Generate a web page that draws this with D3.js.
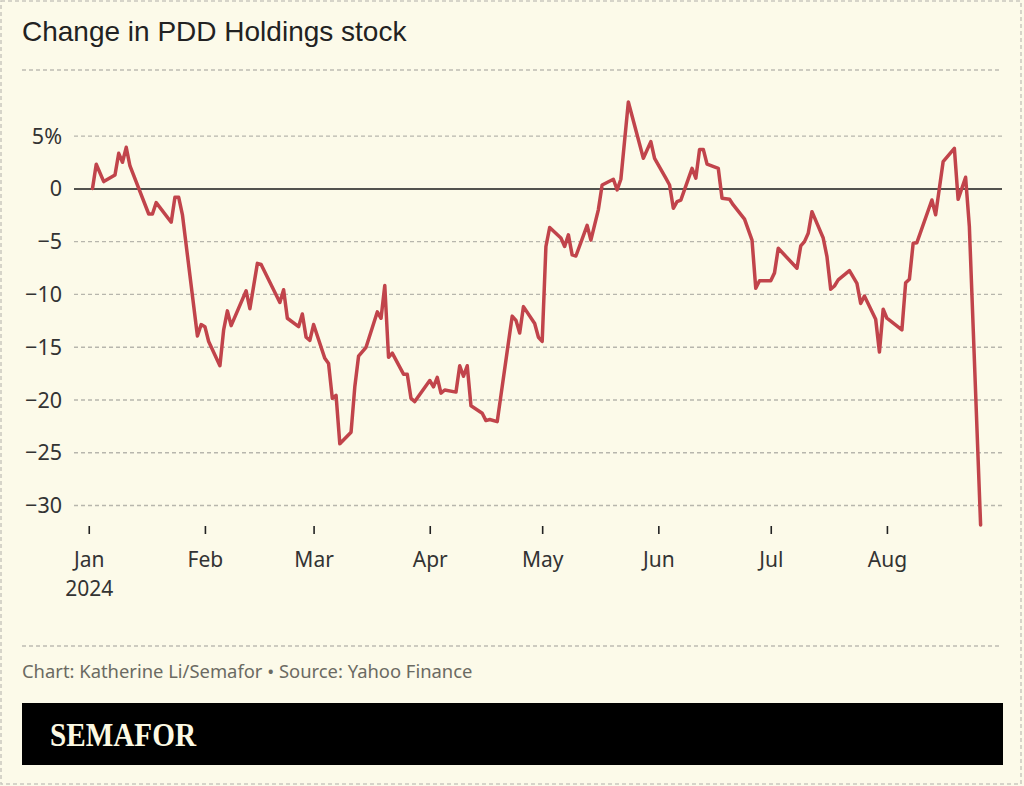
<!DOCTYPE html>
<html>
<head>
<meta charset="utf-8">
<script src="https://cdn.jsdelivr.net/npm/d3@7"></script>
<style>
  html, body { margin: 0; padding: 0; background: #fcfae9; }
  svg { display: block; }
</style>
</head>
<body>
<svg id="chart" width="1024" height="786"></svg>
<script>
// ---- data ----
const title = "Change in PDD Holdings stock";
const footer = "Chart: Katherine Li/Semafor \u2022 Source: Yahoo Finance";
const brand = "SEMAFOR";

const dates = [
  "2024-01-02","2024-01-03","2024-01-05","2024-01-08","2024-01-09","2024-01-10","2024-01-11","2024-01-12",
  "2024-01-17","2024-01-18","2024-01-19","2024-01-23","2024-01-24","2024-01-25","2024-01-26","2024-01-30",
  "2024-01-31","2024-02-01","2024-02-02","2024-02-05","2024-02-06","2024-02-07","2024-02-08","2024-02-12",
  "2024-02-13","2024-02-15","2024-02-16","2024-02-21","2024-02-22","2024-02-23","2024-02-26","2024-02-27",
  "2024-02-28","2024-02-29","2024-03-01","2024-03-04","2024-03-05","2024-03-06","2024-03-07","2024-03-08",
  "2024-03-11","2024-03-12","2024-03-13","2024-03-15","2024-03-18","2024-03-19","2024-03-20","2024-03-21",
  "2024-03-22","2024-03-25","2024-03-26","2024-03-27","2024-03-28","2024-04-01","2024-04-02","2024-04-03",
  "2024-04-04","2024-04-05","2024-04-08","2024-04-09","2024-04-10","2024-04-11","2024-04-12","2024-04-15",
  "2024-04-16","2024-04-17","2024-04-19","2024-04-23","2024-04-24","2024-04-25","2024-04-26","2024-04-29",
  "2024-04-30","2024-05-01","2024-05-02","2024-05-03","2024-05-06","2024-05-07","2024-05-08","2024-05-09",
  "2024-05-10","2024-05-13","2024-05-14","2024-05-16","2024-05-17","2024-05-20","2024-05-21","2024-05-22",
  "2024-05-24","2024-05-28","2024-05-30","2024-05-31","2024-06-03","2024-06-04","2024-06-05","2024-06-06",
  "2024-06-07","2024-06-10","2024-06-11","2024-06-12","2024-06-13","2024-06-14","2024-06-17","2024-06-18",
  "2024-06-20","2024-06-21","2024-06-24","2024-06-26","2024-06-27","2024-06-28","2024-07-01","2024-07-02",
  "2024-07-03","2024-07-08","2024-07-09","2024-07-10","2024-07-11","2024-07-12","2024-07-15","2024-07-16",
  "2024-07-17","2024-07-18","2024-07-19","2024-07-22","2024-07-24","2024-07-25","2024-07-26","2024-07-29",
  "2024-07-30","2024-07-31","2024-08-01","2024-08-05","2024-08-06","2024-08-07","2024-08-08","2024-08-09",
  "2024-08-13","2024-08-14","2024-08-16","2024-08-19","2024-08-20","2024-08-22","2024-08-23","2024-08-26"
];
const changes = [
  0, 2.3, 0.65, 1.28, 3.33, 2.48, 3.9, 2.13,
  -2.42, -2.42, -1.34, -3.2, -0.84, -0.84, -2.5, -13.98,
  -12.9, -13.1, -14.5, -16.8, -13.4, -11.6, -13.0, -9.7,
  -11.4, -7.1, -7.2, -10.8, -9.6, -12.3, -13.1, -11.9,
  -14.1, -14.4, -12.9, -16.1, -16.6, -19.9, -19.6, -24.2,
  -23.1, -18.8, -15.9, -15.05, -11.7, -12.3, -9.2, -16.0,
  -15.6, -17.6, -17.6, -19.9, -20.2, -18.2, -18.8, -17.9,
  -19.4, -19.1, -19.3, -16.8, -17.8, -16.8, -20.6, -21.3,
  -22.0, -21.9, -22.1, -12.1, -12.5, -13.7, -11.2, -12.8,
  -14.1, -14.5, -5.5, -3.7, -4.7, -5.5, -4.4, -6.3,
  -6.4, -3.5, -4.9, -2.0, 0.33, 0.87, -0.14, 0.87,
  8.2, 2.86, 4.44, 2.86, 0.97, 0.33, -1.88, -1.25,
  -1.1, 1.9, 0.97, 3.7, 3.7, 2.3, 1.9, -0.93,
  -1.03, -1.56, -2.9, -4.9, -9.46, -8.74, -8.74, -8.0,
  -5.67, -7.56, -5.45, -5.04, -4.25, -2.2, -4.7, -6.46,
  -9.55, -9.24, -8.67, -7.79, -8.99, -10.9, -10.2, -12.4,
  -15.5, -11.45, -12.3, -13.4, -8.93, -8.6, -5.2, -5.14,
  -1.09, -2.5, 2.54, 3.8, -1.03, 1.06, -3.6, -31.9
];
const yTicks = [5, 0, -5, -10, -15, -20, -25, -30];
const monthTicks = ["2024-01-01","2024-02-01","2024-03-01","2024-04-01","2024-05-01","2024-06-01","2024-07-01","2024-08-01"];

// ---- drawing ----
const W = 1024, H = 786;
const svg = d3.select("#chart");
const parse = d3.utcParse("%Y-%m-%d");
const data = dates.map((d, i) => ({ date: parse(d), value: changes[i] }));

const x = d3.scaleUtc()
  .domain([parse("2024-01-02"), parse("2024-08-26")])
  .range([92.5, 980.6]);
const y = d3.scaleLinear().domain([-30, 5]).range([505, 135.7]);

const gridLeft = 74, gridRight = 1002;

// background + outer dashed frame
svg.append("rect").attr("x", 0).attr("y", 0).attr("width", W).attr("height", H).attr("fill", "#fcfae9");
svg.append("rect").attr("x", 1).attr("y", 1).attr("width", 1020).attr("height", 783)
  .attr("fill", "none").attr("stroke", "#c9c8bf").attr("stroke-width", 1.5).attr("stroke-dasharray", "4,3");

// title
svg.append("text").attr("x", 22).attr("y", 41)
  .attr("font-family", "'Liberation Sans', Arial, sans-serif").attr("font-size", 28)
  .attr("fill", "#222").text(title);

// dashed separator lines
svg.append("line").attr("x1", 22).attr("x2", gridRight).attr("y1", 70).attr("y2", 70)
  .attr("stroke", "#bdbcb3").attr("stroke-width", 1.3).attr("stroke-dasharray", "4,3");
svg.append("line").attr("x1", 22).attr("x2", gridRight).attr("y1", 646).attr("y2", 646)
  .attr("stroke", "#bdbcb3").attr("stroke-width", 1.3).attr("stroke-dasharray", "4,3");

// y grid + labels
const yAxis = d3.axisLeft(y).tickValues(yTicks)
  .tickSize(-(gridRight - gridLeft))
  .tickFormat(d => d === 5 ? "5%" : (d < 0 ? "\u2212" + Math.abs(d) : String(d)));
const gy = svg.append("g").attr("transform", `translate(${gridLeft},0)`).call(yAxis);
gy.select(".domain").remove();
gy.selectAll(".tick line")
  .attr("stroke", d => d === 0 ? "#1a1a1a" : "#b7b6ad")
  .attr("stroke-width", d => d === 0 ? 1.6 : 1.3)
  .attr("stroke-dasharray", d => d === 0 ? null : "4,3");
gy.selectAll(".tick text")
  .attr("x", -12).attr("dy", "0.35em")
  .attr("font-family", "'Noto Sans', 'Open Sans', sans-serif").attr("font-size", 21.5)
  .attr("fill", "#333");

// x axis ticks + labels
const xAxis = d3.axisBottom(x).tickValues(monthTicks.map(parse)).tickSize(8).tickFormat(d3.utcFormat("%b"));
const gx = svg.append("g").attr("transform", "translate(0,526)").call(xAxis);
gx.select(".domain").remove();
gx.selectAll(".tick line").attr("stroke", "#222").attr("stroke-width", 1.6);
gx.selectAll(".tick text")
  .attr("y", 41).attr("dy", 0)
  .attr("font-family", "'Noto Sans', 'Open Sans', sans-serif").attr("font-size", 21)
  .attr("fill", "#333");
gx.selectAll(".tick").filter((d, i) => i === 0).append("text")
  .attr("y", 70).attr("fill", "#333").attr("text-anchor", "middle")
  .attr("font-family", "'Noto Sans', 'Open Sans', sans-serif").attr("font-size", 21)
  .text("2024");

// line
const line = d3.line().x(d => x(d.date)).y(d => y(d.value));
svg.append("path").datum(data)
  .attr("d", line)
  .attr("fill", "none").attr("stroke", "#c1444b").attr("stroke-width", 3.5)
  .attr("stroke-linejoin", "round").attr("stroke-linecap", "round");

// footer
svg.append("text").attr("x", 22).attr("y", 678)
  .attr("font-family", "'Noto Sans', 'Open Sans', sans-serif").attr("font-size", 18.4)
  .attr("fill", "#6b6a62").text(footer);

// brand bar
svg.append("rect").attr("x", 22).attr("y", 703).attr("width", 981).attr("height", 62).attr("fill", "#000");
svg.append("text").attr("x", 50).attr("y", 746)
  .attr("font-family", "'Liberation Serif', 'DejaVu Serif', serif").attr("font-weight", "bold")
  .attr("font-size", 34).attr("fill", "#fcf9e3")
  .attr("textLength", 146).attr("lengthAdjust", "spacingAndGlyphs")
  .text(brand);
</script>
</body>
</html>
